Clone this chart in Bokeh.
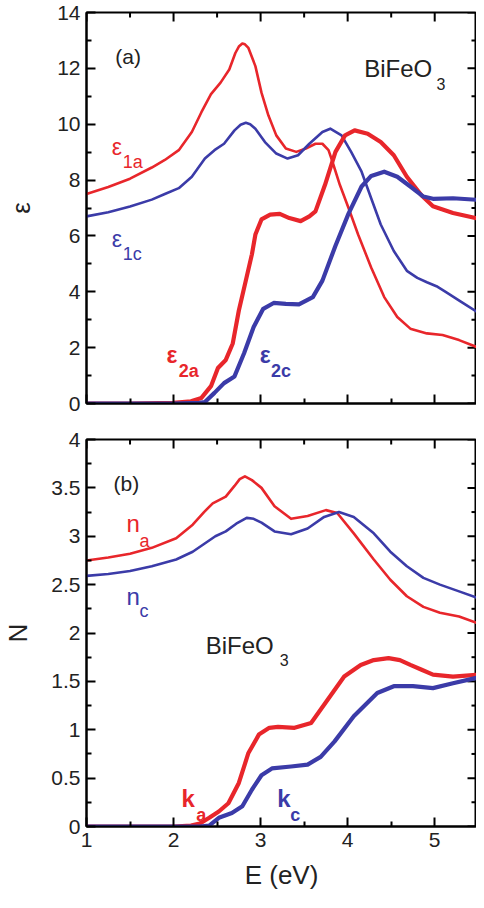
import math
from bokeh.plotting import figure
from bokeh.layouts import column
from bokeh.models import FixedTicker, Range1d
from bokeh.core.properties import value
from bokeh.embed import file_html
from bokeh.resources import INLINE

RED = "#e8262b"
BLUE = "#3b3ba8"
FONT = "Liberation Sans"

# ---------------- panel (a): dielectric function ----------------
e_eps1a = [1.0, 1.25, 1.5, 1.75, 1.9, 2.06, 2.21, 2.32, 2.43, 2.54, 2.64, 2.71, 2.75, 2.79, 2.82,
           2.86, 2.94, 3.01, 3.09, 3.18, 3.29, 3.41, 3.52, 3.63, 3.71, 3.78, 3.82, 3.91, 4.01,
           4.12, 4.27, 4.42, 4.57, 4.72, 4.91, 5.09, 5.28, 5.5]
eps1a = [7.5, 7.75, 8.05, 8.45, 8.72, 9.07, 9.72, 10.43, 11.08, 11.49, 11.96, 12.55, 12.78, 12.89,
         12.86, 12.73, 12.08, 11.13, 10.31, 9.6, 9.13, 9.01, 9.13, 9.3, 9.3, 9.07, 8.71, 7.83,
         7.0, 6.05, 4.87, 3.81, 3.1, 2.68, 2.51, 2.45, 2.27, 2.0]

e_eps1c = [1.0, 1.25, 1.5, 1.75, 1.9, 2.06, 2.21, 2.36, 2.47, 2.58, 2.7, 2.77, 2.83, 2.88, 2.94,
           3.05, 3.18, 3.31, 3.43, 3.56, 3.71, 3.8, 3.93, 4.04, 4.16, 4.27, 4.38, 4.53, 4.68,
           4.8, 4.91, 5.02, 5.13, 5.3, 5.5]
eps1c = [6.7, 6.85, 7.05, 7.3, 7.5, 7.71, 8.12, 8.77, 9.07, 9.3, 9.78, 9.98, 10.05, 10.0, 9.84,
         9.36, 8.95, 8.77, 8.89, 9.3, 9.72, 9.84, 9.6, 9.01, 8.3, 7.35, 6.41, 5.46, 4.75, 4.5,
         4.34, 4.2, 3.99, 3.65, 3.25]

e_eps2a = [1.0, 1.5, 2.0, 2.2, 2.32, 2.43, 2.51, 2.6, 2.68, 2.75, 2.83, 2.9, 2.94, 3.01, 3.11,
           3.22, 3.33, 3.46, 3.56, 3.63, 3.74, 3.86, 3.97, 4.08, 4.23, 4.38, 4.53, 4.68, 4.85,
           4.98, 5.21, 5.5]
eps2a = [0.0, 0.0, 0.02, 0.08, 0.2, 0.62, 1.27, 1.56, 2.15, 3.33, 4.4, 5.34, 6.05, 6.59, 6.76,
         6.79, 6.64, 6.53, 6.7, 6.88, 7.83, 9.01, 9.6, 9.78, 9.66, 9.36, 8.89, 8.12, 7.45, 7.06,
         6.82, 6.62]

e_eps2c = [1.0, 1.5, 2.0, 2.3, 2.36, 2.47, 2.58, 2.7, 2.81, 2.92, 3.03, 3.15, 3.29, 3.44, 3.6,
           3.71, 3.86, 4.01, 4.16, 4.27, 4.42, 4.57, 4.72, 4.87, 4.98, 5.21, 5.5]
eps2c = [0.0, 0.0, 0.0, 0.02, 0.05, 0.38, 0.73, 0.97, 1.8, 2.74, 3.39, 3.6, 3.57, 3.55, 3.81,
         4.4, 5.65, 6.8, 7.77, 8.15, 8.3, 8.12, 7.77, 7.41, 7.33, 7.35, 7.29]

# ---------------- panel (b): refractive index ----------------
e_na = [1.0, 1.25, 1.5, 1.75, 2.03, 2.22, 2.35, 2.45, 2.6, 2.7, 2.76, 2.82, 2.9, 3.01, 3.16, 3.35,
        3.54, 3.75, 3.88, 4.07, 4.3, 4.49, 4.68, 4.87, 5.06, 5.28, 5.5]
n_a = [2.75, 2.78, 2.82, 2.88, 2.98, 3.12, 3.25, 3.34, 3.41, 3.52, 3.59, 3.62, 3.58, 3.5, 3.31,
       3.18, 3.21, 3.27, 3.24, 3.03, 2.76, 2.55, 2.38, 2.27, 2.21, 2.17, 2.1]

e_nc = [1.0, 1.25, 1.5, 1.75, 2.03, 2.22, 2.35, 2.48, 2.6, 2.72, 2.84, 2.92, 3.01, 3.16, 3.35,
        3.54, 3.73, 3.9, 4.07, 4.3, 4.49, 4.68, 4.87, 5.06, 5.28, 5.5]
n_c = [2.59, 2.61, 2.64, 2.69, 2.76, 2.84, 2.92, 3.0, 3.05, 3.13, 3.19, 3.18, 3.14, 3.05, 3.02,
       3.08, 3.2, 3.25, 3.2, 3.03, 2.84, 2.69, 2.57, 2.5, 2.43, 2.36]

e_ka = [1.0, 1.5, 2.0, 2.2, 2.3, 2.41, 2.52, 2.63, 2.75, 2.86, 2.98, 3.1, 3.2, 3.39, 3.58, 3.77,
        3.96, 4.15, 4.3, 4.47, 4.6, 4.72, 4.85, 4.98, 5.21, 5.5]
k_a = [0.0, 0.0, 0.0, 0.01, 0.03, 0.09, 0.155, 0.24, 0.45, 0.76, 0.95, 1.02, 1.03, 1.02, 1.07,
       1.31, 1.55, 1.67, 1.72, 1.74, 1.72, 1.67, 1.62, 1.57, 1.55, 1.57]

e_kc = [1.0, 1.5, 2.0, 2.3, 2.41, 2.52, 2.67, 2.79, 2.9, 3.01, 3.13, 3.35, 3.54, 3.69, 3.85, 4.07,
        4.34, 4.53, 4.75, 4.98, 5.21, 5.5]
k_c = [0.0, 0.0, 0.0, 0.0, 0.01, 0.09, 0.14, 0.21, 0.38, 0.53, 0.6, 0.62, 0.64, 0.72, 0.88, 1.14,
       1.38, 1.45, 1.45, 1.43, 1.48, 1.54]

# ---------------- ticks ----------------
x_major = [1, 2, 3, 4, 5]
x_minor = [1.5, 2.5, 3.5, 4.5]
x_labels = ["1", "2", "3", "4", "5"]
eps_major = [0, 2, 4, 6, 8, 10, 12, 14]
eps_minor = [1, 3, 5, 7, 9, 11, 13]
eps_labels = ["0", "2", "4", "6", "8", "10", "12", "14"]
n_major = [0, 0.5, 1, 1.5, 2, 2.5, 3, 3.5, 4]
n_minor = [0.25, 0.75, 1.25, 1.75, 2.25, 2.75, 3.25, 3.75]
n_labels = ["0", "0.5", "1", "1.5", "2", "2.5", "3", "3.5", "4"]

X_END = 5.48
MAJ, MIN = 9, 5


def style_axis(ax, major, minor, labels=None):
    ax.ticker = FixedTicker(ticks=major, minor_ticks=minor)
    ax.axis_line_color = "black"
    ax.axis_line_width = 2
    ax.major_tick_in = MAJ
    ax.major_tick_out = 0
    ax.minor_tick_in = MIN
    ax.minor_tick_out = 0
    ax.major_tick_line_width = 2
    ax.minor_tick_line_width = 2
    ax.major_tick_line_color = "black"
    ax.minor_tick_line_color = "black"
    if labels is None:
        ax.major_label_text_font_size = "0px"
        ax.major_label_standoff = 0
        ax.major_label_text_color = None
    else:
        ax.major_label_overrides = {str(t): l for t, l in zip(major, labels)}
        ax.major_label_text_font = FONT
        ax.major_label_text_font_size = "21px"
        ax.major_label_text_color = "#222222"
        ax.major_label_standoff = 6
    ax.axis_label_text_font = FONT
    ax.axis_label_text_font_style = "normal"
    ax.axis_label_text_font_size = "26px"
    ax.axis_label_text_color = "#222222"


def make_fig(height, yr, left, top, bottom):
    p = figure(width=476, height=height, x_range=Range1d(1, X_END), y_range=Range1d(*yr),
               output_backend="svg", toolbar_location=None,
               min_border_left=left, min_border_right=0, min_border_top=top,
               min_border_bottom=bottom)
    p.grid.visible = False
    p.outline_line_color = "black"
    p.outline_line_width = 2
    p.background_fill_color = "white"
    p.border_fill_color = "white"
    return p


def mirror_ticks(p, xmaj, xmin, ymaj, ymin, ytop):
    # inward ticks on the top and right frame edges
    for xs, ln in ((xmaj, MAJ), (xmin, MIN)):
        p.ray(x=xs, y=[ytop] * len(xs), length=ln, length_units="screen",
              angle=-math.pi / 2, line_color="black", line_width=2)
    for ys, ln in ((ymaj, MAJ), (ymin, MIN)):
        p.ray(x=[X_END] * len(ys), y=ys, length=ln, length_units="screen",
              angle=math.pi, line_color="black", line_width=2)


def txt(p, x, y, t, size, color, bold=False):
    p.text(x=[x], y=[y], text=[t], text_font=value(FONT), text_font_size=size,
           text_color=color, text_align="left", text_baseline="alphabetic",
           text_font_style="bold" if bold else "normal")


# ---------------- top panel ----------------
pa = make_fig(423, (0, 14), 78, 12, 20)
style_axis(pa.xaxis[0], x_major, x_minor)
pa.xaxis[0].major_label_text_font_size = "1px"
style_axis(pa.yaxis[0], eps_major, eps_minor, eps_labels)
pa.yaxis[0].axis_label = "ε"
pa.yaxis[0].axis_label_standoff = 18
mirror_ticks(pa, x_major, x_minor, eps_major, eps_minor, 14)

pa.line(e_eps1a, eps1a, line_color=RED, line_width=2.6, line_join="round")
pa.line(e_eps1c, eps1c, line_color=BLUE, line_width=2.6, line_join="round")
pa.line(e_eps2a, eps2a, line_color=RED, line_width=4.2, line_join="round")
pa.line(e_eps2c, eps2c, line_color=BLUE, line_width=4.2, line_join="round")

txt(pa, 1.33, 12.44, "(a)", "21px", "#222222")
txt(pa, 4.19, 12.01, "BiFeO", "24px", "#222222")
txt(pa, 5.02, 11.44, "3", "16px", "#222222")
txt(pa, 1.29, 9.17, "ε", "23px", RED)
txt(pa, 1.415, 8.64, "1a", "18px", RED)
txt(pa, 1.29, 5.88, "ε", "23px", BLUE)
txt(pa, 1.415, 5.34, "1c", "18px", BLUE)
txt(pa, 1.92, 1.73, "ε", "23px", RED, True)
txt(pa, 2.06, 1.16, "2a", "18px", RED, True)
txt(pa, 2.99, 1.73, "ε", "23px", BLUE, True)
txt(pa, 3.12, 1.16, "2c", "18px", BLUE, True)

# ---------------- bottom panel ----------------
pb = make_fig(469, (0, 4), 81, 16, 66)
style_axis(pb.xaxis[0], x_major, x_minor, x_labels)
style_axis(pb.yaxis[0], n_major, n_minor, n_labels)
pb.yaxis[0].axis_label = "N"
pb.yaxis[0].axis_label_standoff = 15
pb.xaxis[0].axis_label = "E (eV)"
pb.xaxis[0].axis_label_standoff = 10
mirror_ticks(pb, x_major, x_minor, n_major, n_minor, 4)

pb.line(e_na, n_a, line_color=RED, line_width=2.6, line_join="round")
pb.line(e_nc, n_c, line_color=BLUE, line_width=2.6, line_join="round")
pb.line(e_ka, k_a, line_color=RED, line_width=4.2, line_join="round")
pb.line(e_kc, k_c, line_color=BLUE, line_width=4.2, line_join="round")

txt(pb, 1.31, 3.55, "(b)", "21px", "#222222")
txt(pb, 2.37, 1.875, "BiFeO", "24px", "#222222")
txt(pb, 3.22, 1.72, "3", "16px", "#222222")
txt(pb, 1.46, 3.13, "n", "24px", RED)
txt(pb, 1.61, 2.95, "a", "18px", RED)
txt(pb, 1.46, 2.38, "n", "24px", BLUE)
txt(pb, 1.61, 2.23, "c", "18px", BLUE)
txt(pb, 2.09, 0.29, "k", "24px", RED, True)
txt(pb, 2.26, 0.12, "a", "18px", RED, True)
txt(pb, 3.19, 0.29, "k", "24px", BLUE, True)
txt(pb, 3.34, 0.12, "c", "18px", BLUE, True)

layout = column(pa, pb, spacing=0)
open("out.html", "w").write(file_html(layout, INLINE))
